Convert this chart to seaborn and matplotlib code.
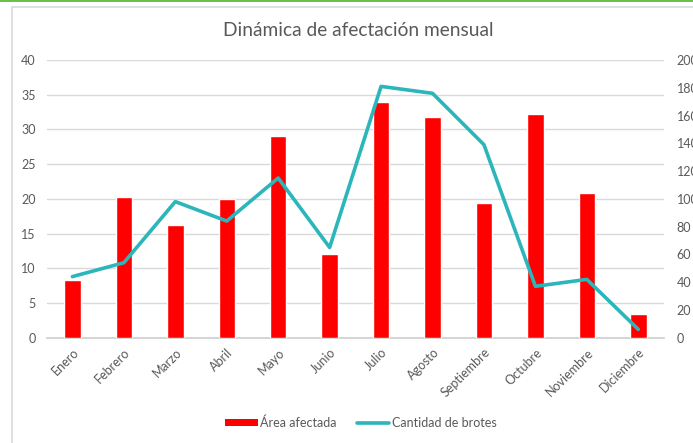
import matplotlib
matplotlib.use("Agg")
import matplotlib.pyplot as plt
import seaborn as sns
import pandas as pd
from matplotlib.patches import Rectangle
from matplotlib.lines import Line2D

meses = ["Enero", "Febrero", "Marzo", "Abril", "Mayo", "Junio", "Julio",
         "Agosto", "Septiembre", "Octubre", "Noviembre", "Diciembre"]
area_afectada = [8.3, 20.3, 16.3, 20.0, 29.1, 12.1, 34.0, 31.8, 19.4, 32.2, 20.9, 3.4]
cantidad_brotes = [44, 54, 98, 84, 115, 65, 181, 176, 139, 37, 42, 6]
left_ticks = [0, 5, 10, 15, 20, 25, 30, 35, 40]
right_ticks = [0, 20, 40, 60, 80, 100, 120, 140, 160, 180, 200]

df = pd.DataFrame({"mes": meses, "area": area_afectada, "brotes": cantidad_brotes})

sns.set_theme(style="white")
plt.rcParams["font.family"] = ["Lato", "DejaVu Sans"]

W, H = 693, 443
fig = plt.figure(figsize=(W / 100, H / 100), dpi=100)
fig.patch.set_facecolor("white")

# outer decorations: green top line and gray chart border
fig.add_artist(Rectangle((0, 1 - 2 / H), 1, 2 / H, transform=fig.transFigure,
                         facecolor="#6cc04a", edgecolor="none"))
fig.add_artist(Rectangle((12.5 / W, -0.01), 1.0, 1 - 6.5 / H + 0.01,
                         transform=fig.transFigure, facecolor="none",
                         edgecolor="#d9d9d9", linewidth=1.2))

ax = fig.add_axes([46.7 / W, 1 - 337.7 / H, (664 - 46.7) / W, (337.7 - 60) / H])
sns.barplot(data=df, x="mes", y="area", color="#ff0000", width=0.32,
            saturation=1, ax=ax, zorder=3)
ax.set_ylim(0, 40)
ax.set_xlim(-0.5, 11.5)
ax.set_yticks(left_ticks)
ax.yaxis.grid(True, color="#d9d9d9", linewidth=1, zorder=0)
ax.set_axisbelow(True)
for s in ["top", "right", "left"]:
    ax.spines[s].set_visible(False)
ax.spines["bottom"].set_color("#d0d0d0")
ax.set_xlabel("")
ax.set_ylabel("")
ax.tick_params(axis="y", length=0, pad=8, labelsize=9, labelcolor="#595959")
ax.set_xticks(range(12))
ax.set_xticklabels(meses, rotation=45, ha="right", rotation_mode="anchor",
                   fontsize=9, color="#595959")
ax.tick_params(axis="x", length=0, pad=6)
# minor tick marks between categories
ax.set_xticks([i - 0.5 for i in range(13)], minor=True)
ax.tick_params(axis="x", which="minor", length=4, color="#d0d0d0", direction="out")

ax2 = ax.twinx()
sns.lineplot(data=df, x="mes", y="brotes", color="#2bb6bb", linewidth=2.6,
             ax=ax2, sort=False, zorder=4)
ax2.set_ylim(0, 200)
ax2.set_yticks(right_ticks)
for s in ["top", "right", "left", "bottom"]:
    ax2.spines[s].set_visible(False)
ax2.set_ylabel("")
ax2.tick_params(axis="y", length=0, pad=9, labelsize=9, labelcolor="#595959")
ax2.grid(False)

fig.text(358 / W, 1 - 31 / H, "Dinámica de afectación mensual", ha="center",
         va="center", fontsize=13.8, color="#595959")

handles = [Rectangle((0, 0), 1, 1, facecolor="#ff0000", edgecolor="none"),
           Line2D([0], [0], color="#2bb6bb", linewidth=2.6)]
fig.legend(handles, ["Área afectada", "Cantidad de brotes"], loc="center",
           bbox_to_anchor=(361 / W, 1 - 423 / H), ncol=2, frameon=False,
           fontsize=9, labelcolor="#595959", handlelength=2.6,
           handleheight=0.5, handletextpad=0.2, columnspacing=1.6)

fig.savefig("out.png", dpi=100, facecolor="white")
